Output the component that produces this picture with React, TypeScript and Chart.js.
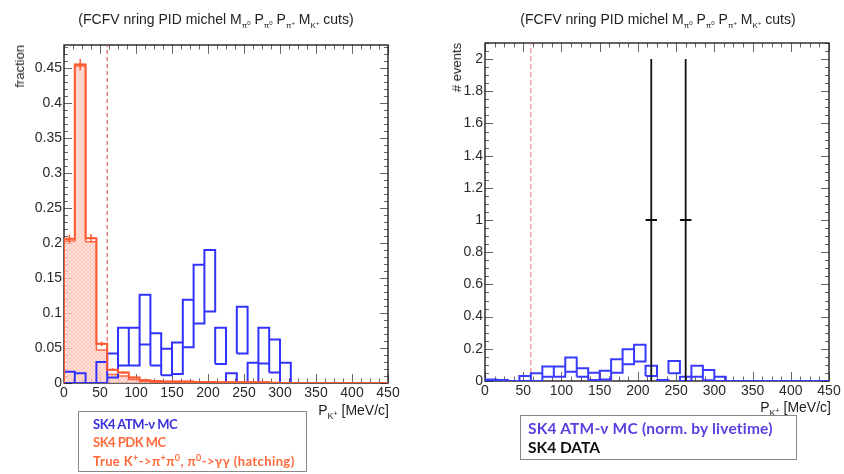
import React, { useEffect, useRef } from "react";
import { Chart, registerables } from "chart.js";

Chart.register(...registerables);
Chart.defaults.font.family = "'Liberation Sans', Arial, sans-serif";

// ---------- data ----------
const BIN_WIDTH = 15; // MeV/c
const X_MIN = 0;
const X_MAX = 450;
const CUT_VALUE = 60; // dashed cut line

// Left panel (fraction): ATM-nu MC error boxes, low / high edge per 15 MeV bin
const atmLowLeft = [0, 0, 0, 0, 0.008, 0.025, 0.025, 0.055, 0.025, 0.011, 0.013, 0.051, 0.085, 0.102, 0.027, 0, 0.042, 0, 0.028, 0.015, 0, 0, 0, 0, 0, 0, 0, 0, 0, 0];
const atmHighLeft = [0.016, 0.014, 0, 0.03, 0.042, 0.079, 0.079, 0.126, 0.071, 0.049, 0.058, 0.119, 0.169, 0.19, 0.079, 0.014, 0.109, 0.029, 0.079, 0.062, 0.029, 0, 0, 0, 0, 0, 0, 0, 0, 0];

// Left panel: PDK MC (with errors) and true K+ -> pi+ pi0 (hatched)
const pdkValues = [0.206, 0.455, 0.207, 0.056, 0.019, 0.015, 0.008, 0.004, 0.003, 0.002, 0.002, 0.002, 0.0015, 0.0015, 0.001, 0.001, 0.001, 0.001, 0.001, 0.0005, 0, 0, 0, 0, 0, 0, 0, 0, 0, 0];
const pdkErrors = [0.006, 0.008, 0.006, 0.003, 0.002, 0.0018, 0.0013, 0.0009, 0.0008, 0.0006, 0.0006, 0.0006, 0.0005, 0.0005, 0.0004, 0.0004, 0.0004, 0.0004, 0.0004, 0.0003, 0, 0, 0, 0, 0, 0, 0, 0, 0, 0];
const trueValues = [0.203, 0.453, 0.202, 0.047, 0.012, 0.01, 0.005, 0.002, 0.001, 0.001, 0.0008, 0.0006, 0.0005, 0.0004, 0.0003, 0.0003, 0.0002, 0.0002, 0.0002, 0.0001, 0, 0, 0, 0, 0, 0, 0, 0, 0, 0];

// Right panel (# events): ATM-nu MC normalised by livetime, low / high edge per bin
const atmLowRight = [0, 0, 0, 0, 0, 0.027, 0.027, 0.058, 0.027, 0.006, 0.01, 0.052, 0.104, 0.121, 0.031, 0, 0.048, 0, 0.027, 0.005, 0, 0, 0, 0, 0, 0, 0, 0, 0, 0];
const atmHighRight = [0.01, 0.006, 0, 0.031, 0.048, 0.09, 0.09, 0.146, 0.079, 0.052, 0.063, 0.135, 0.198, 0.225, 0.094, 0.006, 0.125, 0.027, 0.094, 0.069, 0.027, 0, 0, 0, 0, 0, 0, 0, 0, 0];

// Right panel: SK4 data points
const dataX = [217.5, 262.5];
const dataY = [1, 1];
const dataErrY = [1, 1];

// Axes
const Y_MAX_LEFT = 0.483;
const Y_MAX_RIGHT = 2.1;
const X_TICK_STEP = 50;
const Y_TICK_STEP_LEFT = 0.05;
const Y_TICK_STEP_RIGHT = 0.2;

// Text
const TITLE_PARTS: [string, string, string][] = [
  ["(FCFV nring PID michel M", "π", "0"],
  [" P", "π", "0"],
  [" P", "π", "+"],
  [" M", "K", "+"],
];
const TITLE_END = " cuts)";
const Y_TITLE_LEFT = "fraction";
const Y_TITLE_RIGHT = "# events";

// ---------- helpers ----------
type Pt = { x: number; y: number | null };

function boxPoints(lo: number[], hi: number[]): Pt[] {
  const pts: Pt[] = [];
  lo.forEach((l, i) => {
    const h = hi[i];
    const x0 = X_MIN + i * BIN_WIDTH;
    const x1 = x0 + BIN_WIDTH;
    pts.push({ x: x0, y: l }, { x: x1, y: l }, { x: x1, y: h }, { x: x0, y: h }, { x: x0, y: l }, { x: x0, y: null });
  });
  return pts;
}

function stepPoints(v: number[]): Pt[] {
  const pts: Pt[] = [{ x: X_MIN, y: 0 }];
  v.forEach((val, i) => pts.push({ x: X_MIN + i * BIN_WIDTH, y: val }));
  pts.push({ x: X_MIN + v.length * BIN_WIDTH, y: v[v.length - 1] });
  return pts;
}

function errorPoints(v: number[], e: number[]): Pt[] {
  const pts: Pt[] = [];
  v.forEach((val, i) => {
    if (val <= 0) return;
    const c = X_MIN + (i + 0.5) * BIN_WIDTH;
    pts.push({ x: c, y: val - e[i] }, { x: c, y: val + e[i] }, { x: c, y: null });
    pts.push({ x: c - BIN_WIDTH / 2, y: val }, { x: c + BIN_WIDTH / 2, y: val }, { x: c, y: null });
  });
  return pts;
}

function dataVertical(): Pt[] {
  const pts: Pt[] = [];
  dataX.forEach((x, i) => {
    pts.push({ x, y: dataY[i] - dataErrY[i] }, { x, y: dataY[i] + dataErrY[i] }, { x, y: null });
  });
  return pts;
}
function dataHorizontal(): Pt[] {
  const pts: Pt[] = [];
  dataX.forEach((x, i) => {
    pts.push({ x: x - BIN_WIDTH / 2, y: dataY[i] }, { x: x + BIN_WIDTH / 2, y: dataY[i] }, { x, y: null });
  });
  return pts;
}

function makeHatch(): CanvasPattern | string {
  const c = document.createElement("canvas");
  c.width = 4;
  c.height = 4;
  const g = c.getContext("2d");
  if (!g) return "rgba(255,200,190,0.6)";
  g.fillStyle = "rgba(255,215,205,0.75)";
  g.fillRect(0, 0, 4, 4);
  g.strokeStyle = "rgba(255,140,115,0.45)";
  g.lineWidth = 0.6;
  g.beginPath();
  g.moveTo(0, 4);
  g.lineTo(4, 0);
  g.moveTo(0, 0);
  g.lineTo(4, 4);
  g.stroke();
  return g.createPattern(c, "repeat") || "rgba(255,200,190,0.6)";
}

const rootFrame = {
  id: "rootFrame",
  beforeDatasetsDraw(chart: any, _a: any, opts: any) {
    const { ctx, chartArea: a, scales } = chart;
    const xs = scales.x;
    const ys = scales.y;
    ctx.save();
    ctx.strokeStyle = "#666";
    ctx.lineWidth = 1;
    ctx.beginPath();
    const isMajor = (v: number, m: number) => Math.abs(v / m - Math.round(v / m)) < 1e-6;
    for (let k = 0; ; k++) {
      const v = xs.min + k * opts.xMinor;
      if (v > xs.max + 1e-9) break;
      const len = isMajor(v, opts.xMajor) ? 9 : 4.5;
      const px = Math.round(xs.getPixelForValue(v)) + 0.5;
      ctx.moveTo(px, a.bottom);
      ctx.lineTo(px, a.bottom - len);
      ctx.moveTo(px, a.top);
      ctx.lineTo(px, a.top + len);
    }
    for (let k = 0; ; k++) {
      const v = ys.min + k * opts.yMinor;
      if (v > ys.max + 1e-9) break;
      const len = isMajor(v, opts.yMajor) ? 8 : 4;
      const py = Math.round(ys.getPixelForValue(v)) + 0.5;
      ctx.moveTo(a.left, py);
      ctx.lineTo(a.left + len, py);
      ctx.moveTo(a.right, py);
      ctx.lineTo(a.right - len, py);
    }
    ctx.stroke();
    ctx.strokeStyle = "#222";
    ctx.lineWidth = 1.4;
    ctx.strokeRect(a.left, a.top, a.right - a.left, a.bottom - a.top);
    ctx.restore();
  },
};

const fmt = (v: any) => String(Number(Number(v).toFixed(3)));

function baseOptions(yMax: number, yStep: number, yWidth: number, padding: any, frame: any) {
  return {
    responsive: false,
    animation: false as const,
    devicePixelRatio: 1,
    events: [] as any[],
    layout: { padding },
    plugins: { legend: { display: false }, tooltip: { enabled: false }, rootFrame: frame },
    scales: {
      x: {
        type: "linear" as const,
        min: X_MIN,
        max: X_MAX,
        grid: { display: false, drawTicks: false },
        border: { display: false },
        ticks: { stepSize: X_TICK_STEP, autoSkip: false, maxRotation: 0, padding: 2, color: "#2a2a2a", font: { size: 14 }, callback: fmt },
        afterFit: (s: any) => {
          s.height = 30;
        },
      },
      y: {
        type: "linear" as const,
        min: 0,
        max: yMax,
        grid: { display: false, drawTicks: false },
        border: { display: false },
        ticks: { stepSize: yStep, includeBounds: false, autoSkip: false, padding: 2, color: "#2a2a2a", font: { size: 14 }, callback: fmt },
        afterFit: (s: any) => {
          s.width = yWidth;
        },
      },
    },
  };
}

const lineBase = { pointRadius: 0, fill: false, spanGaps: false, tension: 0, borderJoinStyle: "miter" as const, borderCapStyle: "butt" as const };

function LeftChart() {
  const ref = useRef<HTMLCanvasElement>(null);
  useEffect(() => {
    if (!ref.current) return;
    const hatch = makeHatch();
    const chart = new Chart(ref.current, {
      type: "line",
      data: {
        datasets: [
          { ...lineBase, data: errorPoints(pdkValues, pdkErrors) as any, borderColor: "#ff5a32", borderWidth: 1.5 },
          { ...lineBase, data: stepPoints(pdkValues) as any, borderColor: "#ff5a32", borderWidth: 2, stepped: "before" as const },
          { ...lineBase, data: boxPoints(atmLowLeft, atmHighLeft) as any, borderColor: "#3232ff", borderWidth: 2 },
          { ...lineBase, data: stepPoints(trueValues) as any, borderColor: "#ff6a44", borderWidth: 1.5, stepped: "before" as const, fill: "origin", backgroundColor: hatch as any },
          { ...lineBase, data: [{ x: CUT_VALUE, y: 0 }, { x: CUT_VALUE, y: Y_MAX_LEFT }] as any, borderColor: "#d8453a", borderWidth: 1, borderDash: [4, 3] },
        ],
      },
      options: baseOptions(Y_MAX_LEFT, Y_TICK_STEP_LEFT, 64, { left: 0, right: 34, top: 45, bottom: 61 }, { xMinor: 12.5, xMajor: 50, yMinor: 0.01, yMajor: 0.05 }) as any,
      plugins: [rootFrame as any],
    });
    return () => chart.destroy();
  }, []);
  return <canvas ref={ref} width={422} height={474} style={{ position: "absolute", left: 0, top: 0 }} />;
}

function RightChart() {
  const ref = useRef<HTMLCanvasElement>(null);
  useEffect(() => {
    if (!ref.current) return;
    const chart = new Chart(ref.current, {
      type: "line",
      data: {
        datasets: [
          { ...lineBase, data: dataVertical() as any, borderColor: "#111", borderWidth: 1.8 },
          { ...lineBase, data: dataHorizontal() as any, borderColor: "#111", borderWidth: 2 },
          { ...lineBase, data: boxPoints(atmLowRight, atmHighRight) as any, borderColor: "#3a3aff", borderWidth: 2 },
          { ...lineBase, data: [{ x: CUT_VALUE, y: 0 }, { x: CUT_VALUE, y: Y_MAX_RIGHT }] as any, borderColor: "#f07a7a", borderWidth: 1, borderDash: [5, 3] },
        ],
      },
      options: baseOptions(Y_MAX_RIGHT, Y_TICK_STEP_RIGHT, 63, { left: 0, right: 15, top: 43, bottom: 63 }, { xMinor: 12.5, xMajor: 50, yMinor: 0.05, yMajor: 0.2 }) as any,
      plugins: [rootFrame as any],
    });
    return () => chart.destroy();
  }, []);
  return <canvas ref={ref} width={422} height={474} style={{ position: "absolute", left: 422, top: 0 }} />;
}

const SubSup = ({ base, sup, size = 8 }: { base: string; sup: string; size?: number }) => (
  <span style={{ fontSize: size, position: "relative", top: 4 }}>
    {base}
    <span style={{ fontSize: size - 2, position: "relative", top: -3 }}>{sup}</span>
  </span>
);

const Title = ({ cx }: { cx: number }) => (
  <div
    style={{
      position: "absolute",
      left: cx,
      top: 11,
      transform: "translateX(-50%)",
      whiteSpace: "nowrap",
      font: "14px 'Liberation Sans', Arial, sans-serif",
      color: "#222",
      lineHeight: "16px",
    }}
  >
    {TITLE_PARTS.map(([t, b, s], i) => (
      <React.Fragment key={i}>
        {t}
        <SubSup base={b} sup={s} />
      </React.Fragment>
    ))}
    {TITLE_END}
  </div>
);

const YTitle = ({ cx, top, text }: { cx: number; top: number; text: string }) => (
  <div
    style={{
      position: "absolute",
      left: cx - 8,
      top,
      width: 16,
      writingMode: "vertical-rl",
      transform: "rotate(180deg)",
      whiteSpace: "nowrap",
      font: "13px 'Liberation Sans', Arial, sans-serif",
      color: "#222",
      lineHeight: "16px",
      textAlign: "left",
    }}
  >
    {text}
  </div>
);

const XTitle = ({ right, cy }: { right: number; cy: number }) => (
  <div
    style={{
      position: "absolute",
      left: right - 200,
      width: 200,
      top: cy - 8,
      textAlign: "right",
      whiteSpace: "nowrap",
      font: "14px 'Liberation Sans', Arial, sans-serif",
      color: "#222",
      lineHeight: "16px",
    }}
  >
    P
    <SubSup base="K" sup="+" size={9} /> [MeV/c]
  </div>
);

const supStyle = { fontSize: 9, lineHeight: 0 };

export default function App() {
  return (
    <div style={{ position: "fixed", left: 0, top: 0, width: 844, height: 474, background: "#fff", overflow: "hidden" }}>
      <LeftChart />
      <RightChart />
      <Title cx={216} />
      <Title cx={658} />
      <YTitle cx={20} top={45} text={Y_TITLE_LEFT} />
      <YTitle cx={457} top={43} text={Y_TITLE_RIGHT} />
      <XTitle right={389} cy={410} />
      <XTitle right={831} cy={407} />
      <div
        style={{
          position: "absolute",
          left: 78,
          top: 411,
          width: 229,
          height: 61,
          border: "1px solid #888",
          boxSizing: "border-box",
          padding: "3px 0 0 14px",
          font: "bold 13px Lato, 'Liberation Sans', sans-serif",
          lineHeight: "18.3px",
          whiteSpace: "nowrap",
        }}
      >
        <div style={{ color: "#3a2ee0", letterSpacing: -0.5 }}>SK4 ATM-ν MC</div>
        <div style={{ color: "#ff6a3c", letterSpacing: -0.5 }}>SK4 PDK MC</div>
        <div style={{ color: "#ff6a3c", letterSpacing: 0.4 }}>
          True K<sup style={supStyle}>+</sup>-&gt;π<sup style={supStyle}>+</sup>π<sup style={supStyle}>0</sup>, π<sup style={supStyle}>0</sup>-&gt;γγ (hatching)
        </div>
      </div>
      <div
        style={{
          position: "absolute",
          left: 520,
          top: 415,
          width: 277,
          height: 45,
          border: "1px solid #888",
          boxSizing: "border-box",
          padding: "3px 0 0 7px",
          font: "bold 15.5px Lato, 'Liberation Sans', sans-serif",
          lineHeight: "19px",
          whiteSpace: "nowrap",
        }}
      >
        <div style={{ color: "#5a3ee0", letterSpacing: 0.2 }}>SK4 ATM-ν MC (norm. by livetime)</div>
        <div style={{ color: "#111" }}>SK4 DATA</div>
      </div>
    </div>
  );
}
